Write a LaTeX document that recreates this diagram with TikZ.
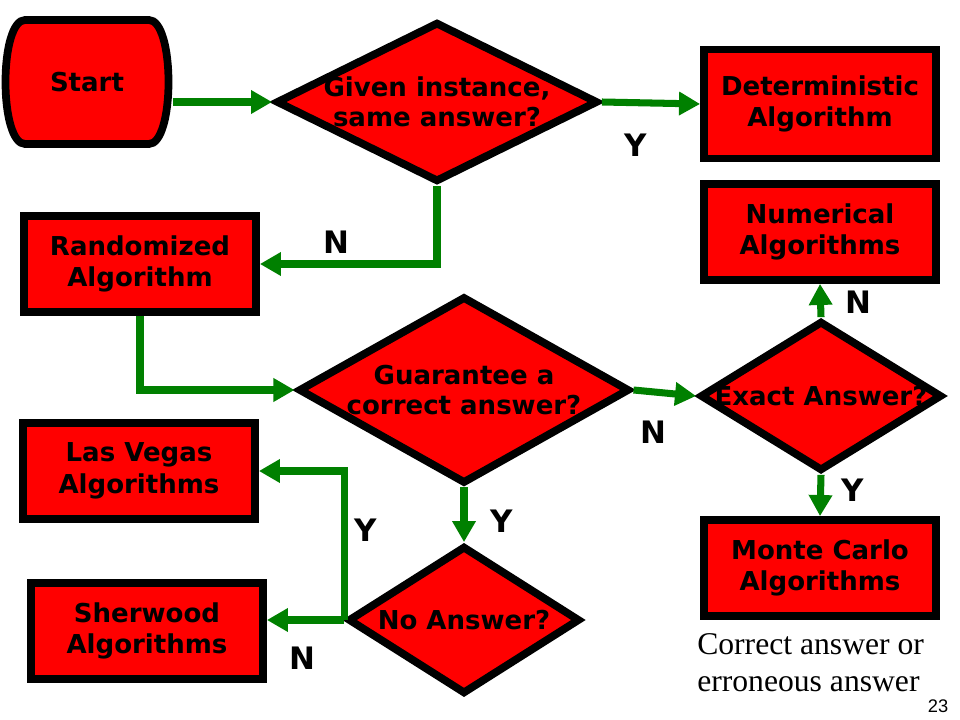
\documentclass[tikz,border=0pt]{standalone}
\usepackage{fontspec}
\setmainfont{DejaVu Sans}
\newfontfamily\notefont{Liberation Serif}
\newfontfamily\pagefont{Liberation Sans}
\usepackage{tikz}
\usetikzlibrary{shapes.geometric, arrows.meta, positioning, backgrounds}
\definecolor{BoxRed}{HTML}{FF0000}
\definecolor{FlowGreen}{HTML}{008000}
\tikzset{
  % Box styles
  startbox/.style={rectangle, line width=5.5pt, minimum width=4.1cm, minimum height=3.1cm, font=\bfseries\fontsize{18.5}{22.5}\selectfont},
  startframe/.style={draw=black, fill=BoxRed, line width=5.5pt},
  algobox/.style={rectangle, draw=black, fill=BoxRed, line width=5.5pt, minimum width=5.8cm, minimum height=2.4cm, font=\bfseries\fontsize{18.5}{22.5}\selectfont, align=center},
  decisionbox/.style={diamond, draw=black, fill=BoxRed, line width=5.5pt, inner sep=0pt},
  decisiontext/.style={font=\bfseries\fontsize{18.5}{21.5}\selectfont, align=center},
  % Arrow styles
  flow/.style={-{Triangle[length=15pt, width=16pt]}, line width=5pt, FlowGreen},
  % Label styles
  answer/.style={font=\bfseries\fontsize{22}{22}\selectfont, inner sep=0pt},
  notetext/.style={font=\notefont\fontsize{22.5}{26.3}\selectfont, align=left, inner sep=0pt}
}
\begin{document}
\begin{tikzpicture}[x=0.025cm, y=-0.025cm]
  \useasboundingbox (0,0) rectangle (960,720);

  % Start and first decision
  \node[startbox] (start) at (87,82) {Start};
  \begin{scope}[on background layer, shift={(start.center)}]
    \draw[startframe] (-62,-62) -- (62,-62) .. controls (74,-62) and (81.5,-34) .. (81.5,0)
      .. controls (81.5,34) and (74,62) .. (62,62) -- (-62,62)
      .. controls (-74,62) and (-81.5,34) .. (-81.5,0)
      .. controls (-81.5,-34) and (-74,-62) .. (-62,-62) -- cycle;
  \end{scope}
  \node[decisionbox, minimum width=8.05cm, minimum height=4.0cm, label={[decisiontext]center:Given instance,\\same answer?}] (given) at (437,102) {};
  \node[algobox, minimum height=2.72cm] (determ) at (820,104) {Deterministic\\Algorithm};
  \node[algobox] (random) at (140,264) {Randomized\\Algorithm};

  % Second level decisions
  \node[decisionbox, minimum width=8.28cm, minimum height=4.68cm, label={[decisiontext]center:Guarantee a\\correct answer?}] (guarantee) at (464,390) {};
  \node[decisionbox, minimum width=6.05cm, minimum height=3.75cm, label={[decisiontext]center:Exact Answer?}] (exact) at (821,396) {};
  \node[decisionbox, minimum width=5.8cm, minimum height=3.7cm, label={[decisiontext]center:No Answer?}] (noanswer) at (464,620) {};

  % Algorithm classes
  \node[algobox] (numeric) at (820,232) {Numerical\\Algorithms};
  \node[algobox] (montecarlo) at (820,568) {Monte Carlo\\Algorithms};
  \node[algobox] (lasvegas) at (139,471) {Las Vegas\\Algorithms};
  \node[algobox] (sherwood) at (147,631) {Sherwood\\Algorithms};

  % Flow arrows
  \draw[flow] (start.east |- given.west) -- (given.west);
  \draw[flow] (given.east) -- (determ.west);
  \draw[flow] (given.south) |- (random.east);
  \draw[flow] (random.south) |- (guarantee.west);
  \draw[flow] (guarantee.east) -- (exact.west);
  \draw[flow] (exact.north) -- (numeric.south);
  \draw[flow] (exact.south) -- (montecarlo.north);
  \draw[flow] (guarantee.south) -- (noanswer.north);
  \draw[flow] (noanswer.west) |- (lasvegas.east);
  \draw[flow] (noanswer.west) -- (noanswer.west -| sherwood.east);

  % Answer labels
  \node[answer] (yDeterm) at (636,145) {Y};
  \node[answer] (nRandom) at (336,242) {N};
  \node[answer] (nExact) at (653,432) {N};
  \node[answer] (nNumeric) at (858,302) {N};
  \node[answer] (yMonte) at (853,490) {Y};
  \node[answer] (yNoAnswer) at (502,521) {Y};
  \node[answer] (yLasVegas) at (366,530) {Y};
  \node[answer] (nSherwood) at (302,658) {N};

  % Note and page number
  \node[notetext, anchor=north west] (note) at (697,633) {Correct answer or\\erroneous answer};
  \node[font=\pagefont\fontsize{13}{13}\selectfont, inner sep=0pt] (page) at (938,706) {23};
\end{tikzpicture}
\end{document}
